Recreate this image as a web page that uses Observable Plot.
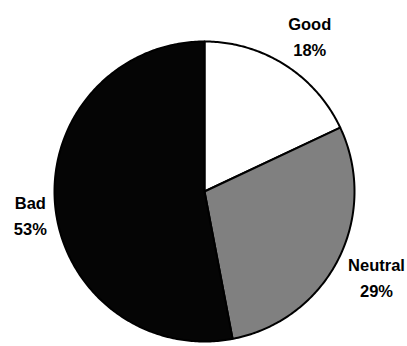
<!DOCTYPE html>
<html>
<head>
<meta charset="utf-8">
<script src="https://cdn.jsdelivr.net/npm/d3@7"></script>
<script src="https://cdn.jsdelivr.net/npm/@observablehq/plot@0.6"></script>
<style>
  html, body { margin: 0; padding: 0; background: #fff; }
</style>
</head>
<body>
<div id="chart"></div>
<script>
const categories = ["Good", "Neutral", "Bad"];
const values = [18, 29, 53];
const colors = ["#ffffff", "#808080", "#050505"];

const W = 407, H = 346, cx = 204, cy = 191, R = 150;

const pie = d3.pie().sort(null).value(d => d.value)(
  categories.map((c, i) => ({ label: c, value: values[i] }))
);

// polygon points of each slice, in unit-circle data coordinates
const pts = [];
pie.forEach(s => {
  const n = Math.max(4, Math.ceil((s.endAngle - s.startAngle) * 80));
  pts.push({ label: s.data.label, x: 0, y: 0 });
  for (let k = 0; k <= n; k++) {
    const a = s.startAngle + (s.endAngle - s.startAngle) * k / n;
    pts.push({ label: s.data.label, x: Math.sin(a), y: Math.cos(a) });
  }
  pts.push({ label: s.data.label, x: 0, y: 0 });
});

const labelR = [1.26, 1.276, 1.17];
const labelShift = [0.025, -0.017, -0.03];
const labels = pie.map((s, i) => {
  const a = (s.startAngle + s.endAngle) / 2 + labelShift[i];
  return {
    x: labelR[i] * Math.sin(a),
    y: labelR[i] * Math.cos(a),
    text: `${s.data.label}\n${s.data.value}%`
  };
});

const chart = Plot.plot({
  width: W,
  height: H,
  margin: 0,
  x: { domain: [-cx / R, (W - cx) / R], axis: null },
  y: { domain: [-(H - cy) / R, cy / R], axis: null },
  color: { domain: categories, range: colors },
  style: { background: "#fff" },
  marks: [
    Plot.line(pts, {
      x: "x", y: "y", z: "label",
      fill: "label",
      stroke: "#000",
      strokeWidth: 2,
      strokeLinejoin: "round",
      curve: "linear"
    }),
    Plot.text(labels, {
      x: "x", y: "y", text: "text",
      fontSize: 16.5,
      fontWeight: "bold",
      fontFamily: "Liberation Sans, Arial, sans-serif",
      lineHeight: 1.58,
      fill: "#000"
    })
  ]
});
document.getElementById("chart").appendChild(chart);
</script>
</body>
</html>
